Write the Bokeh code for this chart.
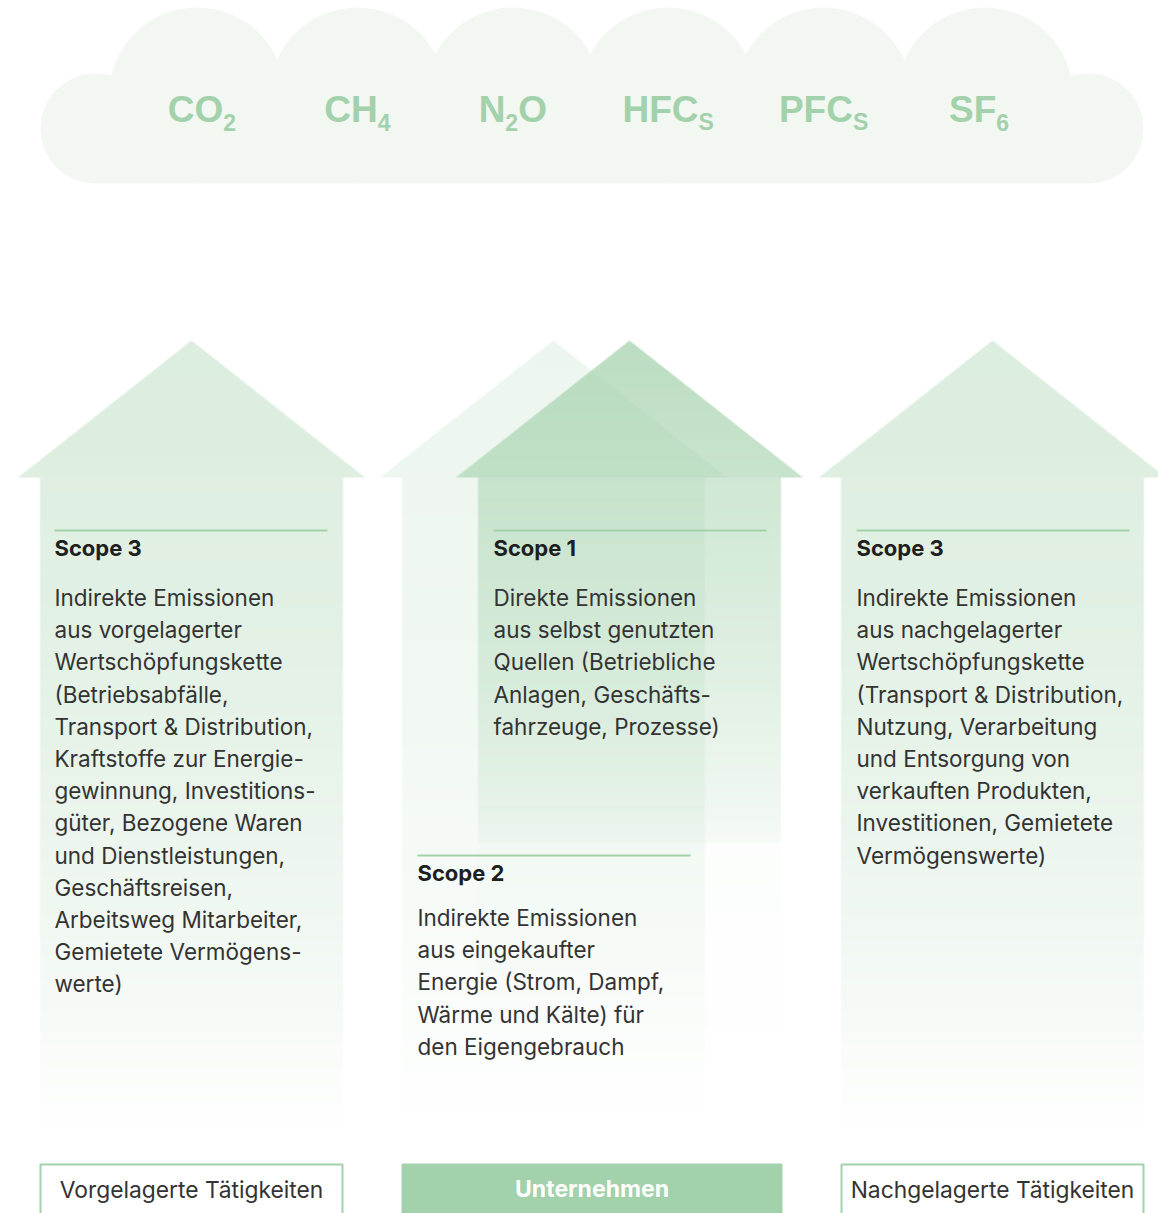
import numpy as np
from bokeh.plotting import figure
from bokeh.models import Range1d
from bokeh.core.properties import value
from bokeh.embed import file_html
from bokeh.resources import INLINE

# ---------------- data (texts) ----------------
gas_base = ["CO", "CH", "N", "HFC", "PFC", "SF"]
gas_sub = ["2", "4", "2", "S", "S", "6"]
gas_tail = ["", "", "O", "", "", ""]

scope_titles = ["Scope 3", "Scope 1", "Scope 2", "Scope 3"]
scope_lines = [
    ["Indirekte Emissionen", "aus vorgelagerter", "Wertschöpfungskette",
     "(Betriebsabfälle,", "Transport & Distribution,", "Kraftstoffe zur Energie-",
     "gewinnung, Investitions-", "güter, Bezogene Waren", "und Dienstleistungen,",
     "Geschäftsreisen,", "Arbeitsweg Mitarbeiter,", "Gemietete Vermögens-", "werte)"],
    ["Direkte Emissionen", "aus selbst genutzten", "Quellen (Betriebliche",
     "Anlagen, Geschäfts-", "fahrzeuge, Prozesse)"],
    ["Indirekte Emissionen", "aus eingekaufter", "Energie (Strom, Dampf,",
     "Wärme und Kälte) für", "den Eigengebrauch"],
    ["Indirekte Emissionen", "aus nachgelagerter", "Wertschöpfungskette",
     "(Transport & Distribution,", "Nutzung, Verarbeitung", "und Entsorgung von",
     "verkauften Produkten,", "Investitionen, Gemietete", "Vermögenswerte)"],
]
activity_labels = ["Vorgelagerte Tätigkeiten", "Unternehmen", "Nachgelagerte Tätigkeiten"]

# ---------------- layout / style ----------------
REF_W, REF_H = 1158, 1213
FIG_W, FIG_H = 1158, 1213
BASE_SHIFT = 0.4   # empirical baseline correction (fraction of font size)


def Y(y):
    return REF_H - y


def TY(baseline, size):
    """y position for a text whose baseline should sit at `baseline`."""
    return Y(baseline - BASE_SHIFT * size)


def px(v):
    return value(f"{v:.2f}px")


GREEN = (163, 209, 171)
GREEN_HEX = "#a3d1ab"
CLOUD = "#f2f7f2"
TEXT = "#333333"
BODY_FONT = value("Inter")

p = figure(width=FIG_W, height=FIG_H, x_range=Range1d(0, REF_W), y_range=Range1d(0, REF_H),
           output_backend="svg", toolbar_location=None, min_border=0,
           x_axis_location=None, y_axis_location=None)
p.grid.visible = False
p.outline_line_color = None
p.background_fill_color = "white"
p.border_fill_color = "white"

# ---------------- cloud ----------------
bump_x = [196.5, 357, 512.5, 667.5, 823, 984.5]
p.ellipse(x=bump_x, y=[Y(95)] * len(bump_x), width=176, height=176,
          fill_color=CLOUD, line_color=None)
p.ellipse(x=[95, 1088], y=[Y(128)] * 2, width=110, height=110, fill_color=CLOUD, line_color=None)
p.quad(left=[95], right=[1088], top=[Y(95)], bottom=[Y(183)], fill_color=CLOUD, line_color=None)

# gas labels with subscripts (Arial/Liberation metrics for placement)
ADV = {"C": .722, "O": .778, "H": .722, "N": .722, "F": .611, "P": .667, "S": .667,
       "2": .556, "4": .556, "6": .556}
MAIN_SZ, SUB_SZ = 37, 23


def tw(s, sz):
    return sum(ADV[c] for c in s) * sz


gx, gy, gt = [], [], []
sx, sy, st = [], [], []
for i, (b, s_, t) in enumerate(zip(gas_base, gas_sub, gas_tail)):
    cx = 201.5 + 155.4 * i
    total = tw(b, MAIN_SZ) + tw(s_, SUB_SZ) + tw(t, MAIN_SZ)
    lx = cx - total / 2
    gx.append(lx); gy.append(TY(124, MAIN_SZ)); gt.append(b)
    sx.append(lx + tw(b, MAIN_SZ)); sy.append(TY(131, SUB_SZ)); st.append(s_)
    if t:
        gx.append(lx + tw(b, MAIN_SZ) + tw(s_, SUB_SZ)); gy.append(TY(124, MAIN_SZ)); gt.append(t)
p.text(x=gx, y=gy, text=gt, text_font=value("Liberation Sans"), text_font_style="bold",
       text_font_size=px(MAIN_SZ),
       text_color=GREEN_HEX, text_align="left", text_baseline="alphabetic")
p.text(x=sx, y=sy, text=st, text_font=value("Liberation Sans"), text_font_style="bold",
       text_font_size=px(SUB_SZ),
       text_color=GREEN_HEX, text_align="left", text_baseline="alphabetic")

# ---------------- arrows (gradient images) ----------------
APEX_Y, BASE_Y = 340, 477
HALF_HEAD, HALF_STEM = 173.5, 151.5


def arrow(cx, head_a, stem_alpha, bottom):
    x0 = int(np.floor(cx - HALF_HEAD)) - 1
    x1 = int(np.ceil(cx + HALF_HEAD)) + 1
    ncol, nrow = x1 - x0, bottom - APEX_Y
    ss = 4
    xs = x0 + (np.arange(ncol * ss) + 0.5) / ss
    ys = APEX_Y + (np.arange(nrow * ss) + 0.5) / ss
    XX, YY = np.meshgrid(xs, ys)
    half = np.where(YY < BASE_Y, HALF_HEAD * (YY - APEX_Y) / (BASE_Y - APEX_Y), HALF_STEM)
    inside = (np.abs(XX - cx) <= half).astype(np.float32)
    cov = inside.reshape(nrow, ss, ncol, ss).mean(axis=(1, 3))
    yc = APEX_Y + np.arange(nrow) + 0.5
    a_row = np.where(yc < BASE_Y,
                     head_a[0] + (head_a[1] - head_a[0]) * (yc - APEX_Y) / (BASE_Y - APEX_Y),
                     stem_alpha(yc))
    a_row = np.clip(a_row, 0, 1)
    alpha = cov * a_row[:, None]
    img = np.zeros((nrow, ncol), dtype=np.uint32)
    v = img.view(dtype=np.uint8).reshape((nrow, ncol, 4))
    v[:, :, 0] = GREEN[0]
    v[:, :, 1] = GREEN[1]
    v[:, :, 2] = GREEN[2]
    v[:, :, 3] = np.round(alpha * 255).astype(np.uint8)
    img = img[::-1].copy()
    p.image_rgba(image=[img], x=x0, y=Y(bottom), dw=ncol, dh=nrow)


def side_stem(yc):
    t = np.clip((yc - BASE_Y) / (1135 - BASE_Y), 0, 1)
    return 0.34 * (1 - t ** 1.6)


def back_stem(yc):
    t = np.clip((yc - BASE_Y) / (1135 - BASE_Y), 0, 1)
    return 0.19 * (1 - t ** 1.4)


def front_stem(yc):
    t = np.clip((yc - BASE_Y) / (842 - BASE_Y), 0, 1)
    a = 0.1 + 0.42 * (1 - t) ** 0.8
    t2 = np.clip((yc - 842) / (1100 - 842), 0, 1)
    return np.where(yc < 842, a, 0.035 * (1 - t2))


arrow(191, (0.38, 0.36), side_stem, 1135)
arrow(992, (0.38, 0.36), side_stem, 1135)
arrow(553, (0.2, 0.19), back_stem, 1135)
arrow(629, (0.74, 0.6), front_stem, 1100)

# ---------------- scope blocks ----------------
block_x = [54, 493, 417, 856]
block_rule_y = [530, 530, 855, 530]
block_title_y = [556, 556, 881, 556]
block_body_y = [606, 606, 926, 606]
RULE_LEN = 273
LINE_STEP = 32.2
TITLE_SZ, BODY_SZ = 22, 22.5

p.segment(x0=block_x, y0=[Y(v) for v in block_rule_y],
          x1=[x + RULE_LEN for x in block_x], y1=[Y(v) for v in block_rule_y],
          line_color=GREEN_HEX, line_width=2)
p.text(x=block_x, y=[TY(v, TITLE_SZ) for v in block_title_y], text=scope_titles,
       text_font=BODY_FONT, text_font_style="bold", text_font_size=px(TITLE_SZ),
       text_color="#1e1e1e", text_align="left", text_baseline="alphabetic")

bx, by, bt = [], [], []
for x, y0, lines in zip(block_x, block_body_y, scope_lines):
    for k, line in enumerate(lines):
        bx.append(x); by.append(TY(y0 + k * LINE_STEP, BODY_SZ)); bt.append(line)
p.text(x=bx, y=by, text=bt, text_font=BODY_FONT, text_font_size=px(BODY_SZ),
       text_color=TEXT, text_align="left", text_baseline="alphabetic")

# ---------------- activity boxes ----------------
box_left = [40, 402, 841]
box_right = [342, 781, 1143]
box_fill = ["white", GREEN_HEX, "white"]
LAB_SZ, LAB_B_SZ = 22.8, 23
p.quad(left=box_left, right=box_right, top=[Y(1164)] * 3, bottom=[Y(1240)] * 3,
       fill_color=box_fill, line_color=GREEN_HEX, line_width=2)
centers = [(l + r) / 2 for l, r in zip(box_left, box_right)]
p.text(x=[centers[0], centers[2]], y=[TY(1198, LAB_SZ)] * 2,
       text=[activity_labels[0], activity_labels[2]],
       text_font=BODY_FONT, text_font_size=px(LAB_SZ), text_color=TEXT,
       text_align="center", text_baseline="alphabetic")
p.text(x=[centers[1]], y=[TY(1198, LAB_B_SZ)], text=[activity_labels[1]],
       text_font=BODY_FONT, text_font_style="bold", text_font_size=px(LAB_B_SZ), text_color="white",
       text_align="center", text_baseline="alphabetic")

open("out.html", "w").write(file_html(p, INLINE))
